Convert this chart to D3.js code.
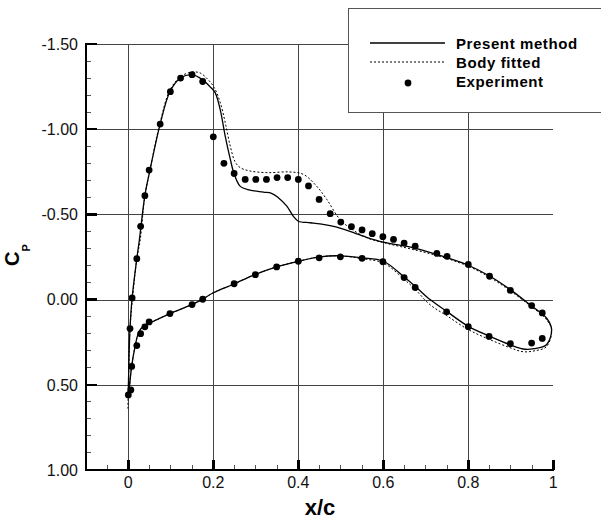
<!DOCTYPE html>
<html>
<head>
<meta charset="utf-8">
<script src="https://cdn.jsdelivr.net/npm/d3@7"></script>
<style>
  body { margin: 0; background: #fff; }
  svg { display: block; font-family: Arial, "Liberation Sans", sans-serif; }
</style>
</head>
<body>
<svg></svg>
<script>
const width = 601;
const height = 523;

// tick values
const xMajor = [0, 0.2, 0.4, 0.6, 0.8, 1];
const xTickLabels = ["0", "0.2", "0.4", "0.6", "0.8", "1"];
const yMajor = [-1.5, -1.0, -0.5, 0, 0.5, 1.0];
const yTickLabels = ["-1.50", "-1.00", "-0.50", "0.00", "0.50", "1.00"];

// present method, upper surface (leading edge -> trailing edge)
const presentUpperX  = [0.000, 0.001, 0.004, 0.009, 0.020, 0.026, 0.039, 0.051, 0.075, 0.098, 0.123, 0.149, 0.175, 0.192, 0.204, 0.216, 0.228, 0.240, 0.247, 0.263, 0.286, 0.318, 0.337, 0.353, 0.373, 0.388, 0.400, 0.428, 0.451, 0.498, 0.553, 0.600, 0.671, 0.735, 0.796, 0.851, 0.898, 0.945, 0.984, 0.996];
const presentUpperCp = [0.56, 0.41, 0.17, -0.01, -0.24, -0.35, -0.61, -0.76, -1.03, -1.22, -1.30, -1.32, -1.29, -1.25, -1.216, -1.118, -0.96, -0.824, -0.755, -0.666, -0.643, -0.631, -0.624, -0.598, -0.549, -0.49, -0.46, -0.451, -0.444, -0.42, -0.372, -0.337, -0.304, -0.258, -0.206, -0.137, -0.06, 0.03, 0.108, 0.176];
// present method, lower surface (leading edge -> trailing edge)
const presentLowerX  = [0.002, 0.008, 0.016, 0.024, 0.035, 0.051, 0.098, 0.149, 0.173, 0.200, 0.247, 0.298, 0.349, 0.400, 0.451, 0.498, 0.549, 0.600, 0.647, 0.675, 0.710, 0.749, 0.800, 0.851, 0.898, 0.929, 0.955, 0.984];
const presentLowerCp = [0.53, 0.39, 0.275, 0.196, 0.157, 0.137, 0.082, 0.03, 0.0, -0.04, -0.09, -0.147, -0.192, -0.225, -0.251, -0.257, -0.245, -0.225, -0.137, -0.078, 0.0, 0.069, 0.157, 0.216, 0.265, 0.29, 0.288, 0.265];

// body fitted, upper surface
const fittedUpperX  = [-0.001, 0.001, 0.004, 0.010, 0.020, 0.028, 0.039, 0.051, 0.075, 0.098, 0.124, 0.149, 0.169, 0.188, 0.202, 0.216, 0.228, 0.240, 0.251, 0.263, 0.286, 0.326, 0.380, 0.412, 0.443, 0.467, 0.498, 0.522, 0.561, 0.608, 0.670, 0.735, 0.796, 0.851, 0.898, 0.945, 0.982, 0.996];
const fittedUpperCp = [0.64, 0.41, 0.17, -0.01, -0.24, -0.35, -0.61, -0.76, -1.04, -1.23, -1.31, -1.335, -1.33, -1.29, -1.245, -1.159, -1.04, -0.90, -0.81, -0.775, -0.755, -0.745, -0.749, -0.735, -0.666, -0.588, -0.47, -0.42, -0.363, -0.33, -0.294, -0.252, -0.2, -0.13, -0.053, 0.035, 0.112, 0.176];
// body fitted, lower surface
const fittedLowerX  = [0.002, 0.008, 0.016, 0.024, 0.035, 0.051, 0.098, 0.149, 0.173, 0.200, 0.247, 0.298, 0.349, 0.400, 0.451, 0.498, 0.549, 0.600, 0.647, 0.675, 0.710, 0.749, 0.800, 0.851, 0.898, 0.929, 0.957, 0.984];
const fittedLowerCp = [0.53, 0.39, 0.275, 0.196, 0.157, 0.137, 0.082, 0.03, 0.0, -0.04, -0.09, -0.147, -0.192, -0.225, -0.251, -0.257, -0.24, -0.215, -0.124, -0.06, 0.03, 0.094, 0.176, 0.235, 0.282, 0.306, 0.30, 0.276];

// experiment, upper surface
const expUpperX  = [0.000, 0.004, 0.009, 0.020, 0.029, 0.039, 0.049, 0.075, 0.099, 0.123, 0.150, 0.175, 0.200, 0.225, 0.249, 0.275, 0.300, 0.325, 0.350, 0.375, 0.400, 0.424, 0.449, 0.475, 0.500, 0.525, 0.550, 0.574, 0.599, 0.624, 0.649, 0.675, 0.726, 0.750, 0.800, 0.850, 0.899, 0.949, 0.974];
const expUpperCp = [0.56, 0.17, -0.01, -0.24, -0.43, -0.61, -0.76, -1.03, -1.22, -1.30, -1.32, -1.28, -0.955, -0.80, -0.74, -0.705, -0.705, -0.705, -0.716, -0.716, -0.705, -0.667, -0.588, -0.504, -0.455, -0.428, -0.409, -0.387, -0.369, -0.353, -0.332, -0.313, -0.271, -0.254, -0.206, -0.137, -0.054, 0.035, 0.078];
// experiment, lower surface
const expLowerX  = [0.006, 0.008, 0.020, 0.029, 0.039, 0.049, 0.098, 0.150, 0.175, 0.249, 0.299, 0.349, 0.400, 0.449, 0.499, 0.550, 0.599, 0.649, 0.675, 0.749, 0.800, 0.849, 0.899, 0.949, 0.974];
const expLowerCp = [0.53, 0.392, 0.27, 0.20, 0.16, 0.131, 0.082, 0.029, -0.002, -0.093, -0.146, -0.192, -0.225, -0.245, -0.251, -0.242, -0.222, -0.129, -0.071, 0.072, 0.159, 0.216, 0.259, 0.255, 0.228];

const svg = d3.select("svg")
   .attr("width", width)
   .attr("height", height);

const x = d3.scaleLinear().domain([-0.1, 1]).range([85.8, 553.3]);
const y = d3.scaleLinear().domain([-1.5, 1.0]).range([44, 470]);

// grid
const grid = svg.append("g").attr("shape-rendering", "crispEdges");
grid.selectAll(".gx").data(xMajor.slice(0, -1)).join("line")
   .attr("x1", d => Math.round(x(d)) + 0.5).attr("x2", d => Math.round(x(d)) + 0.5)
   .attr("y1", y(-1.5)).attr("y2", y(1.0))
   .attr("stroke", "#444").attr("stroke-width", 1);
grid.selectAll(".gy").data(yMajor.slice(0, -1)).join("line")
   .attr("x1", x(-0.1)).attr("x2", x(1))
   .attr("y1", d => Math.round(y(d)) + 0.5).attr("y2", d => Math.round(y(d)) + 0.5)
   .attr("stroke", "#444").attr("stroke-width", 1);

// curves
const toPts = (xs, ys) => xs.map((v, i) => [v, ys[i]]);
const line = d3.line()
   .x(d => x(d[0]))
   .y(d => y(d[1]))
   .curve(d3.curveCatmullRom.alpha(0.5));

const presentLoop = toPts(presentUpperX, presentUpperCp).concat(toPts(presentLowerX, presentLowerCp).reverse());
const fittedLoop = toPts(fittedUpperX, fittedUpperCp).concat(toPts(fittedLowerX, fittedLowerCp).reverse());

svg.append("path")
   .attr("d", line(fittedLoop))
   .attr("fill", "none")
   .attr("stroke", "#000")
   .attr("stroke-width", 1)
   .attr("stroke-dasharray", "2,2");

svg.append("path")
   .attr("d", line(presentLoop))
   .attr("fill", "none")
   .attr("stroke", "#000")
   .attr("stroke-width", 1.3);

const expPts = toPts(expUpperX, expUpperCp).concat(toPts(expLowerX, expLowerCp));
svg.append("g").selectAll("circle").data(expPts).join("circle")
   .attr("cx", d => x(d[0]))
   .attr("cy", d => y(d[1]))
   .attr("r", 3.4)
   .attr("fill", "#000");

// axes
const axes = svg.append("g").attr("shape-rendering", "crispEdges");
const xMinor = d3.range(-0.05, 1.0001, 0.05).filter(v => !xMajor.some(m => Math.abs(m - v) < 1e-6));
const yMinor = d3.range(-1.4, 0.95, 0.1).filter(v => !yMajor.some(m => Math.abs(m - v) < 1e-6));

axes.selectAll(".xmin").data(xMinor).join("line")
   .attr("x1", d => x(d)).attr("x2", d => x(d))
   .attr("y1", y(1.0)).attr("y2", y(1.0) - 5)
   .attr("stroke", "#555").attr("stroke-width", 1);
axes.selectAll(".xmaj").data(xMajor).join("line")
   .attr("x1", d => x(d)).attr("x2", d => x(d))
   .attr("y1", y(1.0)).attr("y2", y(1.0) - 10)
   .attr("stroke", "#000").attr("stroke-width", 2.5);
axes.selectAll(".ymin").data(yMinor).join("line")
   .attr("x1", x(-0.1)).attr("x2", x(-0.1) + 5)
   .attr("y1", d => y(d)).attr("y2", d => y(d))
   .attr("stroke", "#555").attr("stroke-width", 1);
axes.selectAll(".ymaj").data(yMajor).join("line")
   .attr("x1", x(-0.1)).attr("x2", x(-0.1) + 11)
   .attr("y1", d => y(d)).attr("y2", d => y(d))
   .attr("stroke", "#000").attr("stroke-width", 2.5);

axes.append("line")
   .attr("x1", x(-0.1)).attr("x2", x(-0.1))
   .attr("y1", y(-1.5) - 1).attr("y2", y(1.0) + 1)
   .attr("stroke", "#000").attr("stroke-width", 2.5);
axes.append("line")
   .attr("x1", x(-0.1) - 1).attr("x2", x(1) + 1)
   .attr("y1", y(1.0)).attr("y2", y(1.0))
   .attr("stroke", "#000").attr("stroke-width", 2.5);

// tick labels
svg.append("g").selectAll("text").data(xMajor).join("text")
   .attr("x", d => x(d))
   .attr("y", 488)
   .attr("text-anchor", "middle")
   .attr("font-size", 16)
   .attr("fill", "#111")
   .text((d, i) => xTickLabels[i]);
svg.append("g").selectAll("text").data(yMajor).join("text")
   .attr("x", 78)
   .attr("y", d => y(d))
   .attr("dy", "0.36em")
   .attr("text-anchor", "end")
   .attr("font-size", 16)
   .attr("fill", "#111")
   .text((d, i) => yTickLabels[i]);

// axis titles
svg.append("text")
   .attr("x", 320).attr("y", 515)
   .attr("text-anchor", "middle")
   .attr("font-size", 22)
   .attr("font-weight", "bold")
   .text("x/c");

const cp = svg.append("text")
   .attr("transform", "translate(19,255) rotate(-90)")
   .attr("text-anchor", "middle")
   .attr("font-weight", "bold");
cp.append("tspan").attr("font-size", 20).text("C");
cp.append("tspan").attr("font-size", 11).attr("dy", 11).text("P");

// legend
const legend = svg.append("g");
legend.append("rect")
   .attr("x", 348.5).attr("y", 8.5)
   .attr("width", 270).attr("height", 104)
   .attr("fill", "#fff")
   .attr("stroke", "#555").attr("stroke-width", 1);

legend.append("line")
   .attr("x1", 370).attr("x2", 445).attr("y1", 43).attr("y2", 43)
   .attr("stroke", "#000").attr("stroke-width", 1.3);
legend.append("line")
   .attr("x1", 370).attr("x2", 445).attr("y1", 62).attr("y2", 62)
   .attr("stroke", "#000").attr("stroke-width", 1).attr("stroke-dasharray", "2,2");
legend.append("circle")
   .attr("cx", 408).attr("cy", 83).attr("r", 3.4).attr("fill", "#000");

const legendNames = ["Present method", "Body fitted", "Experiment"];
legend.selectAll("text").data(legendNames).join("text")
   .attr("x", 456)
   .attr("y", (d, i) => 49 + i * 19)
   .attr("font-size", 15)
   .attr("font-weight", "bold")
   .attr("letter-spacing", 0.6)
   .text(d => d);
</script>
</body>
</html>
